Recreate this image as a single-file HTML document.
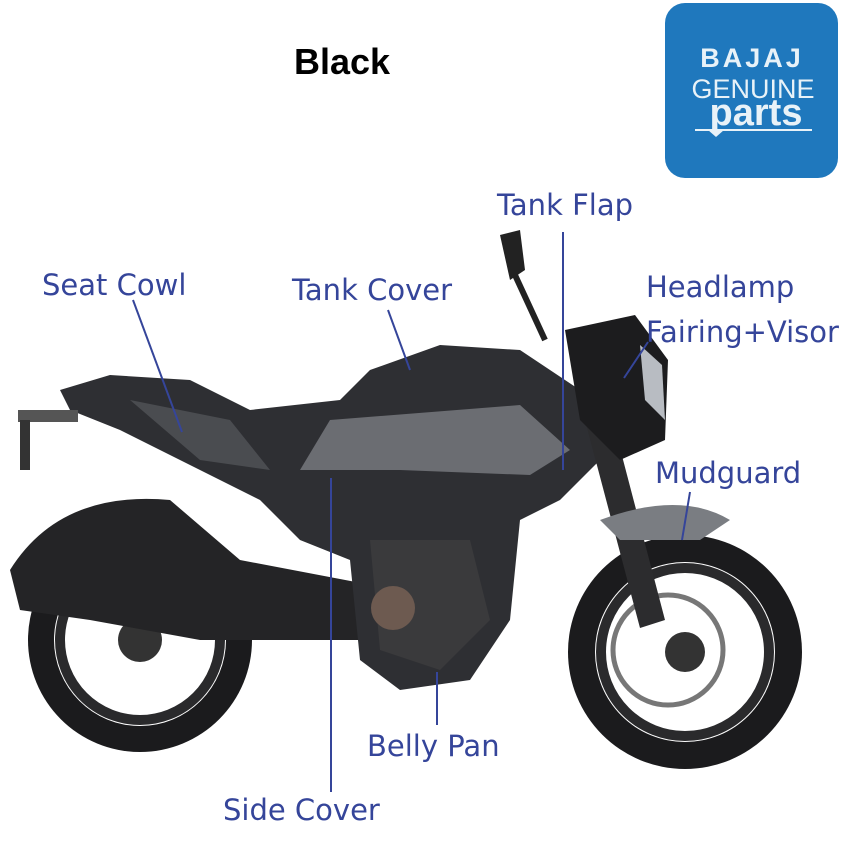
<!DOCTYPE html>
<html><head><meta charset="utf-8"><style>
html,body{margin:0;padding:0;background:#fff}
svg{display:block}
.l{font-family:"DejaVu Sans","Liberation Sans",sans-serif;font-size:29px;fill:#35459a}
</style></head><body>
<svg width="842" height="842" viewBox="0 0 842 842" xmlns="http://www.w3.org/2000/svg">
<rect width="842" height="842" fill="#fff"/>
<text x="294" y="74" font-family="Liberation Sans,sans-serif" font-weight="bold" font-size="36" fill="#000">Black</text>
<rect x="665" y="3" width="173" height="175" rx="20" fill="#1f78bd"/>
<text x="752" y="67" text-anchor="middle" font-family="Liberation Sans,sans-serif" font-weight="bold" font-size="27" fill="#e8f2f8" letter-spacing="3">BAJAJ</text>
<text x="753" y="98" text-anchor="middle" font-family="Liberation Sans,sans-serif" font-size="27" fill="#e8f2f8">GENUINE</text>
<text x="756" y="125" text-anchor="middle" font-family="Liberation Sans,sans-serif" font-weight="bold" font-size="38" fill="#e8f2f8">parts</text>
<line x1="695" y1="130" x2="812" y2="130" stroke="#e8f2f8" stroke-width="2"/>
<path d="M708 130 L716 137 L724 130Z" fill="#e8f2f8"/>
<circle cx="140" cy="640" r="112" fill="#1b1b1d"/>
<circle cx="140" cy="640" r="86" fill="#fff"/>
<circle cx="140" cy="640" r="80" fill="none" stroke="#2a2a2c" stroke-width="10"/>
<circle cx="140" cy="640" r="22" fill="#333"/>
<circle cx="685" cy="652" r="117" fill="#1b1b1d"/>
<circle cx="685" cy="652" r="90" fill="#fff"/>
<circle cx="685" cy="652" r="84" fill="none" stroke="#2a2a2c" stroke-width="10"/>
<circle cx="668" cy="650" r="55" fill="none" stroke="#777" stroke-width="5"/>
<circle cx="685" cy="652" r="20" fill="#333"/>
<path d="M10 570 Q60 490 170 500 L240 560 L450 600 L450 640 L200 640 L90 620 L20 610Z" fill="#242426"/>
<path d="M60 390 L110 375 L190 380 L250 410 L340 400 L370 370 L440 345 L520 350 L580 390 L600 460 L560 500 L520 520 L510 620 L470 680 L400 690 L360 660 L350 560 L300 540 L260 500 L200 470 L120 430 L70 410Z" fill="#2e2f33"/>
<path d="M330 420 L520 405 L570 450 L530 475 L400 470 L300 470Z" fill="#6b6d72"/>
<path d="M130 400 L230 420 L270 470 L200 460Z" fill="#4a4c50"/>
<path d="M370 540 L470 540 L490 620 L440 670 L380 650Z" fill="#3a3a3c"/>
<circle cx="393" cy="608" r="22" fill="#6d5a50"/>
<path d="M585 420 L610 410 L665 620 L640 628Z" fill="#2c2c2e"/>
<path d="M565 330 L635 315 L668 360 L665 440 L620 460 L580 420Z" fill="#1c1c1e"/>
<path d="M640 345 L662 365 L665 420 L645 400Z" fill="#b8bcc2"/>
<path d="M600 520 Q680 490 730 520 L700 540 L620 540Z" fill="#7a7d82"/>
<path d="M500 235 L520 230 L525 270 L510 280Z" fill="#222"/>
<line x1="515" y1="275" x2="545" y2="340" stroke="#222" stroke-width="6"/>
<rect x="18" y="410" width="60" height="12" fill="#555"/>
<rect x="20" y="420" width="10" height="50" fill="#333"/>
<g stroke="#35459a" stroke-width="2" fill="none">
<line x1="563" y1="232" x2="563" y2="470"/>
<line x1="133" y1="300" x2="182" y2="432"/>
<line x1="388" y1="310" x2="410" y2="370"/>
<line x1="648" y1="342" x2="624" y2="378"/>
<line x1="690" y1="492" x2="682" y2="540"/>
<line x1="331" y1="478" x2="331" y2="792"/>
<line x1="437" y1="672" x2="437" y2="725"/>
</g>
<text class="l" x="497" y="215">Tank Flap</text>
<text class="l" x="42" y="295">Seat Cowl</text>
<text class="l" x="292" y="300">Tank Cover</text>
<text class="l" x="646" y="297">Headlamp</text>
<text class="l" x="646" y="342">Fairing+Visor</text>
<text class="l" x="655" y="483">Mudguard</text>
<text class="l" x="367" y="756">Belly Pan</text>
<text class="l" x="223" y="820">Side Cover</text>
</svg>
</body></html>
